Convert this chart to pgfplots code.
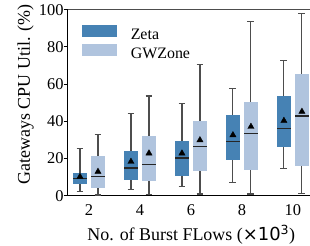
\documentclass[border=0pt]{standalone}
\usepackage{pgfplots}
\pgfplotsset{compat=1.18}
\usepgfplotslibrary{statistics}
\usepackage{fontspec}
\setmainfont{Liberation Serif}
\newfontfamily\djv{DejaVu Sans}
\definecolor{zeta}{HTML}{4682B4}
\definecolor{gwz}{HTML}{B0C4DE}
\definecolor{whisk}{HTML}{4D4D4D}
\pgfplotsset{
  bx/.style n args={7}{
    boxplot/draw direction=y,
    boxplot prepared={draw position=#1, lower whisker=#2, lower quartile=#3,
      median=#4, upper quartile=#5, upper whisker=#6, box extend=0.525, whisker extend=0.27},
    boxplot/every box/.style={fill=#7, draw=#7, line width=0.6bp},
    boxplot/every whisker/.style={draw=whisk, line width=1.1bp},
    boxplot/every median/.style={draw=black!85, line width=1.2bp},
    draw=whisk, forget plot
  }
}
\begin{document}
\begin{tikzpicture}
\begin{axis}[
  scale only axis, width=242.3bp, height=186bp,
  xmin=1.165, xmax=10.67, ymin=0, ymax=100,
  axis lines*=left, axis line style={line width=1.2bp, black},
  clip=false,
  xtick={2,4,6,8,10}, ytick={0,20,40,60,80,100},
  xticklabels={2,4,6,8,10}, yticklabels={0,20,40,60,80,100},
  x tick style={draw=none},
  y tick style={black, line width=1.1bp},
  major tick length=4bp, tick align=outside,
  ticklabel style={font=\fontsize{16.5}{18}\selectfont},
  xticklabel style={anchor=base, inner sep=0pt, yshift=-15.3bp},
  yticklabel style={anchor=east, inner sep=0pt},
  xlabel={No. of Burst FLows ({\djv×10\textsuperscript{3}})},
  xlabel style={at={(axis description cs:0.51,-0.242)}, anchor=base, font=\fontsize{18}{20}\selectfont},
  ylabel={Gateways CPU Util. (\%)},
  ylabel style={at={(axis description cs:-0.174,0.545)}, anchor=center, font=\fontsize{18}{20}\selectfont},
  legend style={at={(rel axis cs:0.058,0.918)}, anchor=north west, draw=none, fill=none,
    inner sep=0pt, outer sep=0pt, row sep=3.7bp, column sep=0pt,
    nodes={inner sep=0pt, anchor=base west}, font=\fontsize{16}{18}\selectfont},
  legend cell align=left,
  legend image code/.code={\fill[#1] (0bp,2.6bp) rectangle (35bp,14.3bp); \path (49bp,0bp);},
]
\addlegendimage{fill=zeta, draw=none}
\addlegendentry{Zeta}
\addlegendimage{fill=gwz, draw=none}
\addlegendentry{GWZone}
% Zeta
\addplot[bx={1.647}{2.4}{6.8}{9.4}{12.2}{25.5}{zeta}] coordinates {};
\addplot[bx={3.647}{3.4}{9.0}{14.9}{24.0}{44.3}{zeta}] coordinates {};
\addplot[bx={5.647}{5.0}{11.1}{20.3}{29.4}{49.7}{zeta}] coordinates {};
\addplot[bx={7.647}{7.0}{19.6}{29.0}{43.0}{57.7}{zeta}] coordinates {};
\addplot[bx={9.647}{14.4}{26.3}{36.2}{53.2}{72.6}{zeta}] coordinates {};
% GWZone
\addplot[bx={2.353}{0.4}{4.7}{10.2}{21.3}{33.0}{gwz}] coordinates {};
\addplot[bx={4.353}{0.7}{8.3}{16.9}{31.7}{53.6}{gwz}] coordinates {};
\addplot[bx={6.353}{0.9}{13.8}{26.5}{40.2}{70.6}{gwz}] coordinates {};
\addplot[bx={8.353}{0.9}{14.2}{33.5}{50.4}{93.5}{gwz}] coordinates {};
\addplot[bx={10.353}{1.3}{16.1}{42.8}{65.4}{98.0}{gwz}] coordinates {};
% means
\addplot[only marks, mark=triangle*, mark size=3.6bp, mark options={fill=black, draw=black}, forget plot]
  coordinates {(1.647,10.2) (3.647,18.3) (5.647,22.8) (7.647,32.6) (9.647,40.3)};
\addplot[only marks, mark=triangle*, mark size=3.6bp, mark options={fill=black, draw=black}, forget plot]
  coordinates {(2.353,12.9) (4.353,22.8) (6.353,29.9) (8.353,37.1) (10.353,45.2)};
\draw[whisk, line width=1bp] (rel axis cs:0,1) -- (rel axis cs:1,1);
\end{axis}
\pgfresetboundingbox
\useasboundingbox (-67.7bp,-50.3bp) rectangle (242.3bp,195.7bp);
\end{tikzpicture}
\end{document}
